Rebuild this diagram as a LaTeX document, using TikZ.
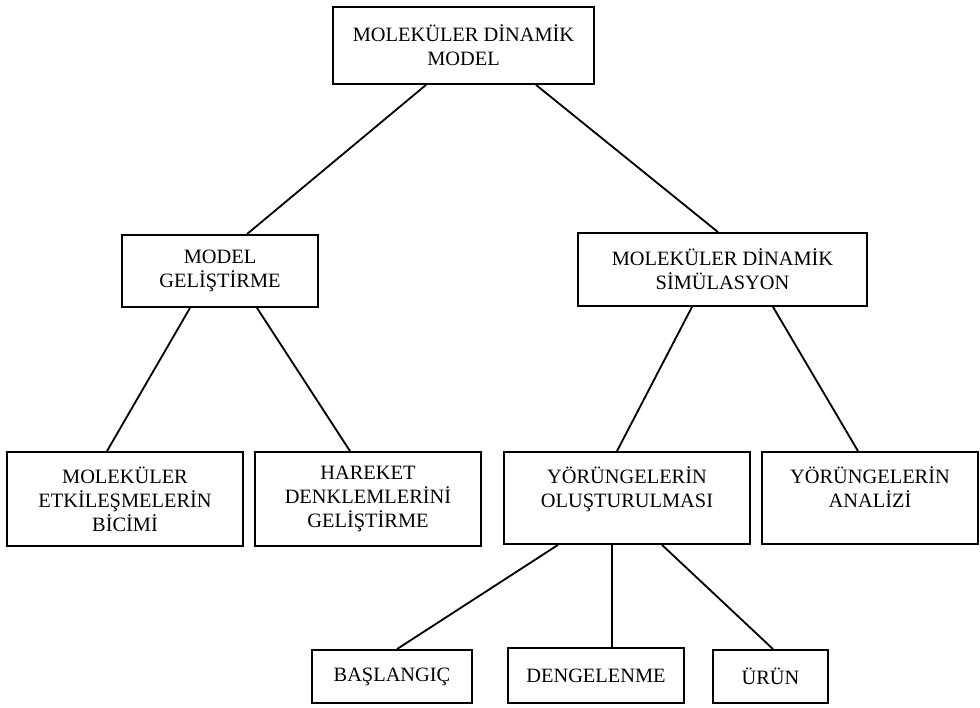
\documentclass[tikz,border=0pt]{standalone}
\usepackage{fontspec}
\setmainfont{Liberation Serif}
\begin{document}
\begin{tikzpicture}
    \tikzstyle{every node}=[rectangle, draw=black, line width=1.3pt, inner sep=0pt, align=center, font=\fontsize{14.5}{17}\selectfont, text=black]
    \tikzstyle{edge}=[black, line width=1.3pt]

    \useasboundingbox (0,0) rectangle (24.5,-17.7);

    \node[minimum width=6.525cm, minimum height=1.925cm] (mdm) at (11.5875,-1.1375) {MOLEKÜLER DİNAMİK\\MODEL};

    \node[minimum width=4.9cm, minimum height=1.8cm] (gel) at (5.5,-6.775) {MODEL\\GELİŞTİRME};
    \node[minimum width=7.225cm, minimum height=1.825cm] (sim) at (18.0625,-6.7375) {MOLEKÜLER DİNAMİK\\SİMÜLASYON};

    \node[minimum width=5.9cm, minimum height=2.35cm] (etk) at (3.125,-12.475) {MOLEKÜLER\\ETKİLEŞMELERİN\\BİCİMİ};
    \node[minimum width=5.65cm, minimum height=2.35cm] (har) at (9.2,-12.475) {HAREKET\\DENKLEMLERİNİ\\GELİŞTİRME};
    \node[minimum width=6.15cm, minimum height=2.3cm] (olus) at (15.675,-12.45) {YÖRÜNGELERİN\\OLUŞTURULMASI\\[-7pt]\strut};
    \node[minimum width=5.4cm, minimum height=2.3cm] (anal) at (21.75,-12.45) {YÖRÜNGELERİN\\ANALİZİ\\[-7pt]\strut};

    \node[minimum width=4.0cm, minimum height=1.325cm] (bas) at (9.8,-16.9125) {BAŞLANGIÇ};
    \node[minimum width=4.4cm, minimum height=1.375cm] (den) at (14.9,-16.8875) {DENGELENME};
    \node[minimum width=2.875cm, minimum height=1.325cm] (urun) at (19.2625,-16.9125) {ÜRÜN};

    \draw[edge] ([xshift=-0.9375cm]mdm.south) -- ([xshift=0.675cm]gel.north);
    \draw[edge] ([xshift=1.8125cm]mdm.south) -- ([xshift=-0.1125cm]sim.north);

    \draw[edge] ([xshift=-0.75cm]gel.south) -- ([xshift=-0.45cm]etk.north);
    \draw[edge] ([xshift=0.925cm]gel.south) -- ([xshift=-0.45cm]har.north);

    \draw[edge] ([xshift=-0.7625cm]sim.south) -- ([xshift=-0.25cm]olus.north);
    \draw[edge] ([xshift=1.2625cm]sim.south) -- ([xshift=-0.3cm]anal.north);

    \draw[edge] ([xshift=-1.725cm]olus.south) -- ([xshift=0.125cm]bas.north);
    \draw[edge] ([xshift=-0.375cm]olus.south) -- ([xshift=0.4cm]den.north);
    \draw[edge] ([xshift=0.875cm]olus.south) -- ([xshift=0.0625cm]urun.north);
\end{tikzpicture}
\end{document}
